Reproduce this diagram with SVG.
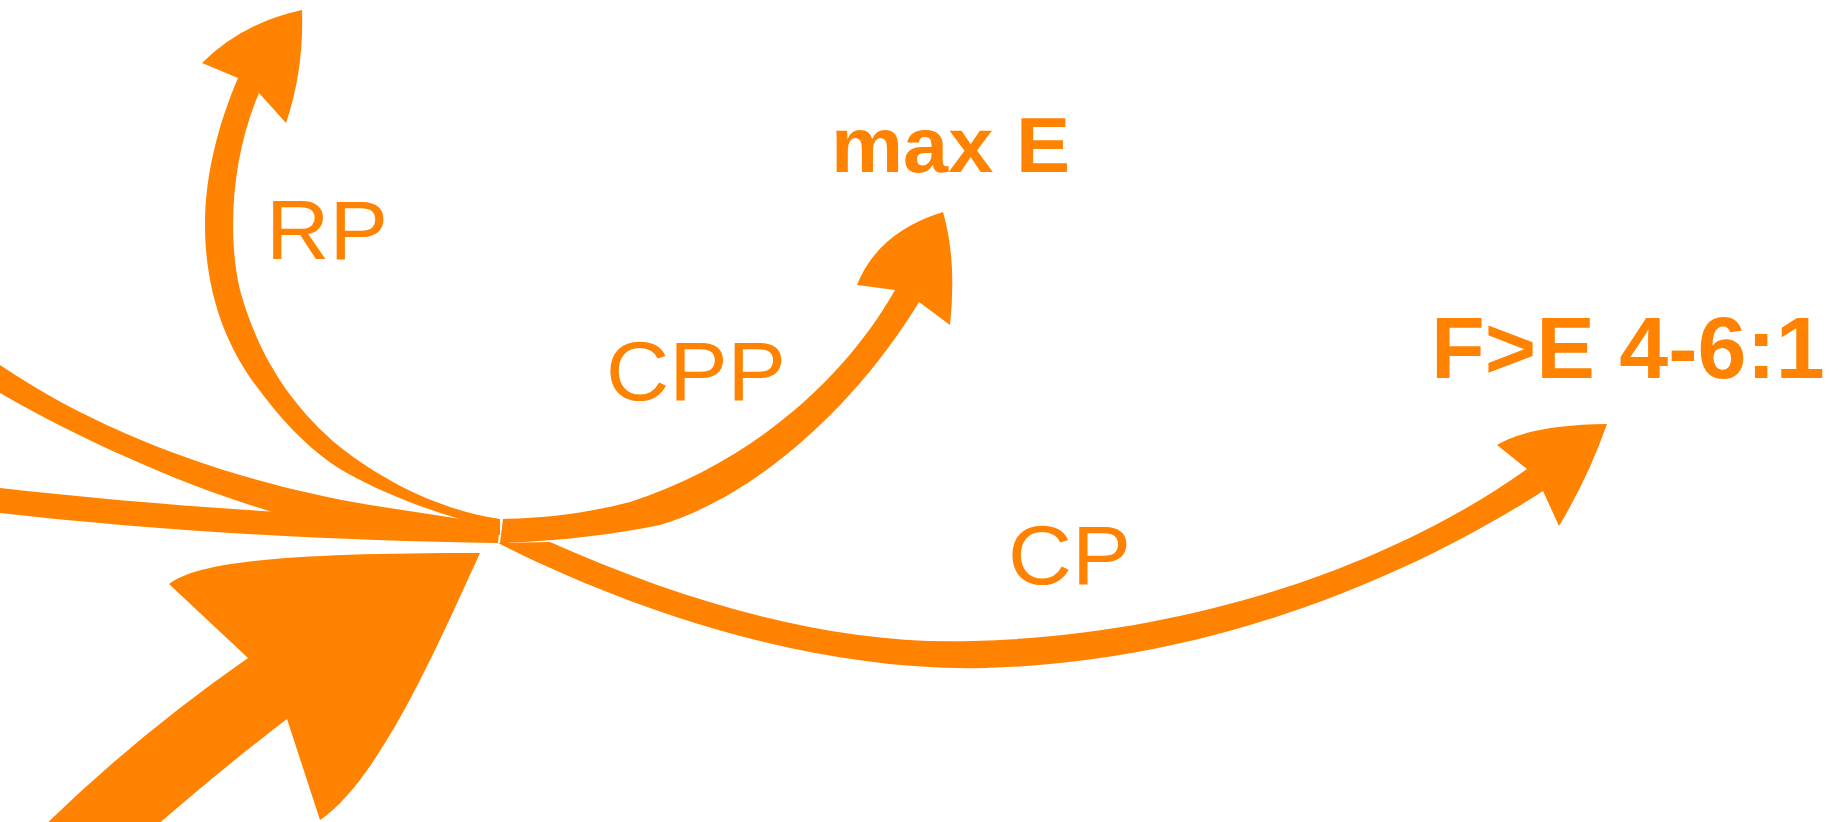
<svg xmlns="http://www.w3.org/2000/svg" width="1838" height="822" viewBox="0 0 1838 822">
<style>
.band{fill:#FF8300;stroke:none}
.lbl{fill:#FF8300;font-family:"Liberation Sans",Arial,sans-serif;font-size:84px}
.node{fill:#FF8300;font-family:"Liberation Sans",Arial,sans-serif;font-weight:bold}
</style>
<rect x="0" y="0" width="1838" height="822" fill="#ffffff"/>
<g id="connectors">
  <path id="in-upper" class="band" d="M0,365 C110,440 250,485 370,505 L500,525 L500,535 L283,515 C200,492 90,445 0,393 Z"/>
  <path id="in-lower" class="band" d="M0,488 C150,505 320,517 500,521 L498,543 C330,541 150,530 0,513 Z"/>
  <path id="in-big" class="band" d="M169,584 C200,560 300,553 480,553 C440,640 380,780 320,820 L287,719 Q220,770 140,840 L30,840 Q130,740 248,658 Z"/>
  <path id="rp" class="band" d="M302,10 Q242,23 202,63 L238,78 C218,125 205,175 205,225 C205,290 225,345 257,387 C285,425 315,455 347,473 C390,497 440,515 500,530 L500,519 C440,510 385,482 340,447 C290,405 258,355 240,290 C228,240 230,160 259,93 L286,123 Q304,70 302,10 Z"/>
  <path id="cpp" class="band" d="M943,212 Q878,232 857,285 L895,290 C850,370 760,460 630,502 C580,515 540,518 503,519 L500,543 C560,541 610,535 660,525 C760,495 860,400 919,302 L950,325 Q957,260 943,212 Z"/>
  <path id="cp" class="band" d="M1607,424 Q1530,425 1497,445 L1527,469 C1400,560 1200,635 973,641 C830,646 680,600 550,542 L498,543 C640,615 820,672 985,668 C1220,662 1420,570 1543,491 L1559,526 Q1588,478 1607,424 Z"/>
  <text class="lbl" x="266" y="259" textLength="122" lengthAdjust="spacingAndGlyphs">RP</text>
  <text class="lbl" x="606" y="400" textLength="180" lengthAdjust="spacingAndGlyphs">CPP</text>
  <text class="lbl" x="1008" y="584" textLength="123" lengthAdjust="spacingAndGlyphs">CP</text>
</g>
<g id="node-maxE">
  <text class="node" x="831" y="172" font-size="77" textLength="239" lengthAdjust="spacingAndGlyphs">max E</text>
</g>
<g id="node-FE">
  <text class="node" x="1431" y="378" font-size="88">F&gt;E 4-6:1</text>
</g>
</svg>
